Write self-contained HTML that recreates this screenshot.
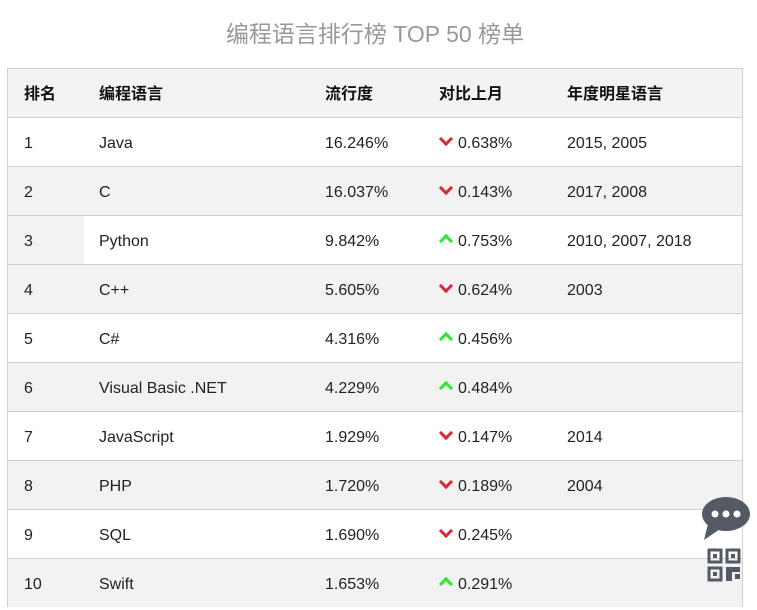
<!DOCTYPE html>
<html><head><meta charset="utf-8"><style>
body{margin:0;width:757px;height:598px;overflow:hidden;background:#fff;font-family:"Liberation Sans","Noto Sans CJK SC",sans-serif;position:relative}
.title{position:absolute;left:0;width:750px;top:17px;text-align:center;font-size:23px;color:#999;line-height:34px}
.tbl{position:absolute;left:7px;top:68px;width:734px;border-left:1px solid #d0d0d0;border-right:1px solid #d0d0d0}
.row{position:relative;height:48px;border-top:1px solid #d0d0d0;font-size:16px;color:#222}
.row div{position:absolute;top:1px;line-height:50px;white-space:nowrap}
.hd{background:#f3f3f3;font-weight:bold;color:#111}
.g{background:#f2f2f2}
.c1{left:16px}.c2{left:91px}.c3{left:317px}.c4{left:431px}.c5{left:559px}
.dn,.up{display:inline-block;width:7px;height:7px;border-right:3px solid;border-bottom:3px solid;margin-right:7px;margin-left:2px}
.dn{border-color:#d42a3a;transform:rotate(45deg);position:relative;top:-4px}
.up{border-color:#2ee82e;transform:rotate(-135deg);position:relative;top:0px}
</style></head><body>
<div class="title">编程语言排行榜 TOP 50 榜单</div>
<div class="tbl">
<div class="row hd"><div class="c1">排名</div><div class="c2">编程语言</div><div class="c3">流行度</div><div class="c4">对比上月</div><div class="c5">年度明星语言</div></div>
<div class="row"><div class="c1">1</div><div class="c2">Java</div><div class="c3">16.246%</div><div class="c4"><span class="dn"></span>0.638%</div><div class="c5">2015, 2005</div></div>
<div class="row g"><div class="c1">2</div><div class="c2">C</div><div class="c3">16.037%</div><div class="c4"><span class="dn"></span>0.143%</div><div class="c5">2017, 2008</div></div>
<div class="row"><div style="left:0;top:0;width:76px;height:48px;background:#f2f2f2"></div><div class="c1">3</div><div class="c2">Python</div><div class="c3">9.842%</div><div class="c4"><span class="up"></span>0.753%</div><div class="c5">2010, 2007, 2018</div></div>
<div class="row g"><div class="c1">4</div><div class="c2">C++</div><div class="c3">5.605%</div><div class="c4"><span class="dn"></span>0.624%</div><div class="c5">2003</div></div>
<div class="row"><div class="c1">5</div><div class="c2">C#</div><div class="c3">4.316%</div><div class="c4"><span class="up"></span>0.456%</div><div class="c5"></div></div>
<div class="row g"><div class="c1">6</div><div class="c2">Visual Basic .NET</div><div class="c3">4.229%</div><div class="c4"><span class="up"></span>0.484%</div><div class="c5"></div></div>
<div class="row"><div class="c1">7</div><div class="c2">JavaScript</div><div class="c3">1.929%</div><div class="c4"><span class="dn"></span>0.147%</div><div class="c5">2014</div></div>
<div class="row g"><div class="c1">8</div><div class="c2">PHP</div><div class="c3">1.720%</div><div class="c4"><span class="dn"></span>0.189%</div><div class="c5">2004</div></div>
<div class="row"><div class="c1">9</div><div class="c2">SQL</div><div class="c3">1.690%</div><div class="c4"><span class="dn"></span>0.245%</div><div class="c5"></div></div>
<div class="row g"><div class="c1">10</div><div class="c2">Swift</div><div class="c3">1.653%</div><div class="c4"><span class="up"></span>0.291%</div><div class="c5"></div></div>
</div>
<svg style="position:absolute;left:700px;top:494px" width="52" height="104">
<ellipse cx="26" cy="20" rx="24" ry="17" fill="#545a63"/>
<path d="M8 30 L4 46 L20 35 Z" fill="#545a63"/>
<circle cx="15" cy="20" r="3.5" fill="#fff"/><circle cx="26" cy="20" r="3.5" fill="#fff"/><circle cx="37" cy="20" r="3.5" fill="#fff"/>
<g fill="none" stroke="#545a63" stroke-width="3">
<rect x="9" y="56" width="12" height="12"/><rect x="27" y="56" width="12" height="12"/><rect x="9" y="74" width="12" height="12"/>
</g>
<rect x="13" y="60" width="4" height="4" fill="#545a63"/><rect x="31" y="60" width="4" height="4" fill="#545a63"/><rect x="13" y="78" width="4" height="4" fill="#545a63"/>
<rect x="26" y="73" width="6" height="14" fill="#545a63"/><rect x="32" y="73" width="8" height="5" fill="#545a63"/><rect x="35" y="80" width="5" height="5" fill="#545a63"/>
</svg>
</body></html>
